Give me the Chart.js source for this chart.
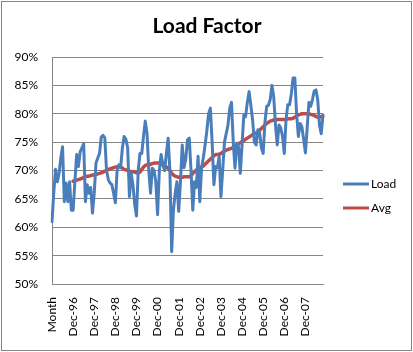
<!DOCTYPE html>
<html>
<head>
<meta charset="utf-8">
<script src="https://cdn.jsdelivr.net/npm/chart.js@4/dist/chart.umd.min.js"></script>
<style>
  html, body { margin: 0; padding: 0; background: #fff; }
  #wrap { width: 413px; height: 352px; }
</style>
</head>
<body>
<div id="wrap"><canvas id="myChart" width="413" height="352"></canvas></div>
<script>
const tickLabels = ["Month", "Dec-96", "Dec-97", "Dec-98", "Dec-99", "Dec-00", "Dec-01",
  "Dec-02", "Dec-03", "Dec-04", "Dec-05", "Dec-06", "Dec-07"];
const monthNames = ["Jan", "Feb", "Mar", "Apr", "May", "Jun", "Jul", "Aug", "Sep", "Oct", "Nov", "Dec"];

// load factor, % (first point sits on the "Month" category)
const load = [
  61.0, 66.0, 70.2, 68.0, 69.5, 72.2, 74.2, 64.5, 67.8, 64.5,
  68.0, 63.0, 63.0, 68.0, 72.8, 70.7, 73.3, 74.0, 74.7, 64.5,
  67.5, 66.0, 67.0, 62.5, 66.0, 71.3, 72.2, 73.0, 75.9, 76.2,
  75.8, 70.0, 68.4, 67.8, 67.5, 66.0, 64.3, 70.0, 71.0, 70.5,
  74.0, 76.0, 75.5, 74.0, 65.4, 69.5, 67.5, 64.0, 62.0, 70.0,
  73.0, 73.0, 76.0, 78.7, 76.5, 70.0, 66.0, 70.4, 70.0, 68.0,
  62.2, 70.0, 72.8, 71.0, 70.0, 73.0, 75.7, 70.0, 55.7, 63.0,
  66.0, 68.0, 62.8, 68.0, 74.5, 70.5, 72.0, 75.4, 75.7, 70.0,
  63.0, 68.0, 67.0, 72.5, 64.5, 70.5, 72.3, 74.5, 77.0, 80.0,
  81.0, 75.0, 67.5, 70.7, 70.5, 72.5, 65.4, 70.0, 75.0, 76.5,
  78.0, 81.0, 82.0, 75.0, 70.4, 74.8, 74.2, 69.5, 74.5, 79.8,
  79.5, 82.0, 83.9, 81.5, 78.9, 75.0, 74.5, 77.2, 76.6, 74.0,
  73.0, 78.5, 81.3, 81.5, 82.5, 85.0, 83.0, 78.0, 74.5, 78.0,
  77.5, 76.0, 73.0, 79.0, 81.6, 81.6, 83.5, 86.3, 86.3, 80.0,
  76.0, 78.3, 77.7, 75.5, 73.1, 77.5, 82.0, 81.3, 82.5, 84.0,
  84.2, 82.5, 78.0, 76.5, 79.8
];

// 12-month average, % (starts at Dec-96)
const avg = [
  null, null, null, null, null, null, null, null, null, null, null, null,
  68.1, 68.2, 68.3, 68.4, 68.5, 68.6, 68.8, 68.9,
  69.0, 69.0, 69.1, 69.2, 69.2, 69.3, 69.4, 69.5, 69.6, 69.7,
  69.9, 70.0, 70.2, 70.3, 70.4, 70.5, 70.6, 70.6, 70.7, 70.6,
  70.4, 70.2, 70.1, 70.0, 69.9, 69.8, 69.8, 69.7, 69.6, 69.6,
  69.7, 70.2, 70.6, 70.9, 71.0, 71.0, 71.1, 71.2, 71.3, 71.3,
  71.3, 71.3, 71.2, 71.0, 70.8, 70.6, 70.4, 70.0, 69.5, 69.2,
  69.0, 68.9, 68.8, 68.8, 68.8, 68.9, 68.9, 68.9, 68.9, 69.1,
  69.5, 69.8, 70.1, 70.3, 70.4, 70.6, 70.8, 71.1, 71.4, 71.7,
  72.0, 72.3, 72.6, 72.8, 72.8, 72.9, 73.0, 73.2, 73.4, 73.6,
  73.7, 73.8, 73.9, 74.1, 74.3, 74.5, 74.7, 74.9, 75.1, 75.3,
  75.5, 75.7, 75.9, 76.1, 76.3, 76.5, 76.6, 76.8, 77.1, 77.4,
  77.7, 78.0, 78.3, 78.5, 78.7, 78.8, 78.9, 78.9, 79.0, 79.0,
  79.0, 79.0, 79.0, 79.0, 79.1, 79.1, 79.1, 79.2, 79.4, 79.6,
  79.8, 79.9, 80.0, 80.0, 80.0, 80.0, 80.0, 79.9, 79.8, 79.7,
  79.5, 79.4, 79.4, 79.5, 79.6
];

const yTicks = { min: 50, max: 90, step: 5 };

// month labels, Dec-95 is shown as "Month"
const categories = load.map((v, i) => {
  if (i === 0) return tickLabels[0];
  const m = (i - 1) % 12;
  const y = 96 + Math.floor((i - 1) / 12);
  return monthNames[m] + "-" + String(y % 100).padStart(2, "0");
});

const FONT = "Lato, 'Liberation Sans', sans-serif";
const GRID = "#868686";

// white background, chart border, title over the whole chart, legend on the right
const frame = {
  id: "frame",
  beforeDraw(chart) {
    const c = chart.ctx;
    c.save();
    c.fillStyle = "#fff";
    c.fillRect(0, 0, chart.width, chart.height);
    c.restore();
  },
  afterDraw(chart) {
    const c = chart.ctx;
    c.save();
    c.strokeStyle = GRID;
    c.lineWidth = 1;
    c.strokeRect(1.5, 1.5, chart.width - 3, chart.height - 3);

    c.fillStyle = "#000";
    c.font = "bold 21px " + FONT;
    c.textAlign = "center";
    c.textBaseline = "middle";
    c.fillText("Load Factor", 207, 26);

    const items = [
      { text: "Load", color: "#4A7EBB", y: 184 },
      { text: "Avg", color: "#BE4B48", y: 208 },
    ];
    c.font = "12px " + FONT;
    c.textAlign = "left";
    items.forEach((it) => {
      c.strokeStyle = it.color;
      c.lineWidth = 3;
      c.beginPath();
      c.moveTo(343, it.y);
      c.lineTo(369, it.y);
      c.stroke();
      c.fillStyle = "#000";
      c.fillText(it.text, 371, it.y);
    });
    c.restore();
  },
};

const ctx = document.getElementById("myChart").getContext("2d");

new Chart(ctx, {
  type: "line",
  data: {
    labels: categories,
    datasets: [
      {
        label: "Load",
        data: load,
        borderColor: "#4A7EBB",
        borderWidth: 3,
        pointRadius: 0,
        tension: 0,
        borderJoinStyle: "round",
        borderCapStyle: "round",
      },
      {
        label: "Avg",
        data: avg,
        borderColor: "#BE4B48",
        borderWidth: 3.5,
        pointRadius: 0,
        tension: 0,
        borderJoinStyle: "round",
        borderCapStyle: "round",
        spanGaps: false,
      },
    ],
  },
  options: {
    responsive: false,
    animation: false,
    layout: { padding: { left: 0, right: 90, top: 57, bottom: 0 } },
    plugins: {
      legend: { display: false },
      tooltip: { enabled: false },
      title: { display: false },
    },
    scales: {
      x: {
        grid: { display: false, drawTicks: false },
        border: { color: GRID, width: 1 },
        afterFit(s) { s.height = 68; },
        ticks: {
          autoSkip: false,
          minRotation: 90,
          maxRotation: 90,
          padding: 13,
          color: "#000",
          font: { family: FONT, size: 12 },
          callback(val, idx) {
            return idx % 12 === 0 ? tickLabels[idx / 12] : null;
          },
        },
      },
      y: {
        min: yTicks.min,
        max: yTicks.max,
        grid: { color: GRID, drawTicks: false },
        border: { color: GRID, width: 1 },
        afterFit(s) { s.width = 52; },
        ticks: {
          stepSize: yTicks.step,
          padding: 14,
          color: "#000",
          font: { family: FONT, size: 12 },
          callback: (v) => v + "%",
        },
      },
    },
  },
  plugins: [frame],
});
</script>
</body>
</html>
